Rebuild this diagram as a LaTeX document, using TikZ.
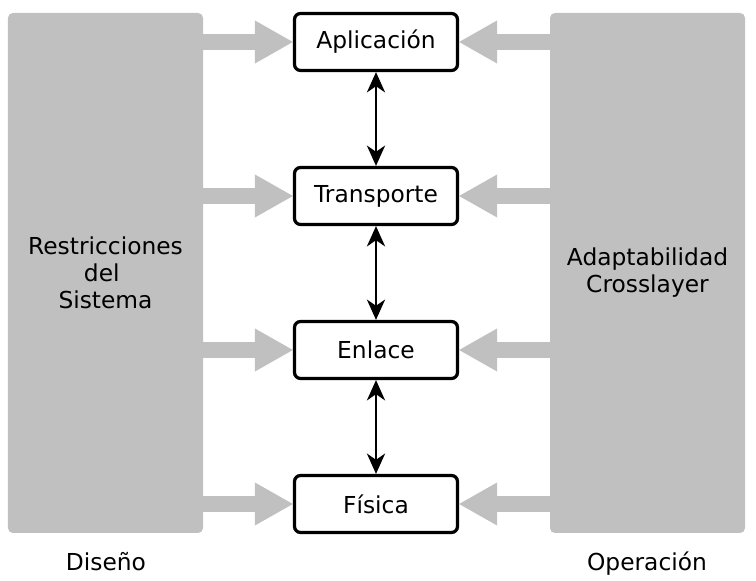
\documentclass[tikz,border=0pt]{standalone}
\usepackage{fontspec}
\setmainfont{DejaVu Sans}
\usetikzlibrary{arrows.meta,positioning}
\definecolor{panelgray}{RGB}{192,192,192}

\begin{document}
\begin{tikzpicture}[
    every node/.style={font=\fontsize{16.6pt}{19.2pt}\selectfont},
    layer/.style={draw=black,line width=2.3pt,rounded corners=4.3pt,fill=white,
                  minimum width=4.075cm,minimum height=1.425cm,inner sep=0pt},
    panel/.style={fill=panelgray,rounded corners=3.5pt,align=center,inner sep=0pt,
                  minimum width=4.875cm,minimum height=13cm},
    feed/.style={panelgray,line width=10.7pt,
                 -{Triangle[length=27pt,width=30.6pt,line width=0pt]}},
    link/.style={black,line width=1.2pt,
                 {Stealth[length=14.5pt,width=13pt,inset=4.5pt]}-{Stealth[length=14.5pt,width=13pt,inset=4.5pt]}}
  ]
  \pgfmathsetmacro\xmid{9.4}
  \pgfmathsetmacro\ybot{1.925}
  \pgfmathsetmacro\vstep{3.85}
  \useasboundingbox (0,0) rectangle (18.9,14.525);

% side panels with their captions
  \node[panel] (restr) at (2.6375,7.7) {Restricciones\\del\kern.318em\\Sistema};
  \node[panel] (adapt) at (16.1875,7.7) {Adaptabilidad\\Crosslayer};
  \node[anchor=base] (diseno) at (2.65,0.25) {Diseño};
  \node[anchor=base] (operac) at (16.175,0.25) {Operación};

% protocol stack
  \node[layer] (fis) at (\xmid,\ybot) {Física};
  \node[layer] (enl) at (\xmid,\ybot+\vstep) {Enlace};
  \node[layer] (tra) at (\xmid,\ybot+2*\vstep) {Transporte};
  \node[layer] (apl) at (\xmid,\ybot+3*\vstep) {Aplicación};

  \foreach \lay in {apl,tra,enl,fis} {
    \draw[feed] (restr.east |- \lay) -- (\lay.west);
    \draw[feed] (adapt.west |- \lay) -- (\lay.east);
  }
  \draw[link] (apl) -- (tra);
  \draw[link] (tra) -- (enl);
  \draw[link] (enl) -- (fis);
\end{tikzpicture}
\end{document}
